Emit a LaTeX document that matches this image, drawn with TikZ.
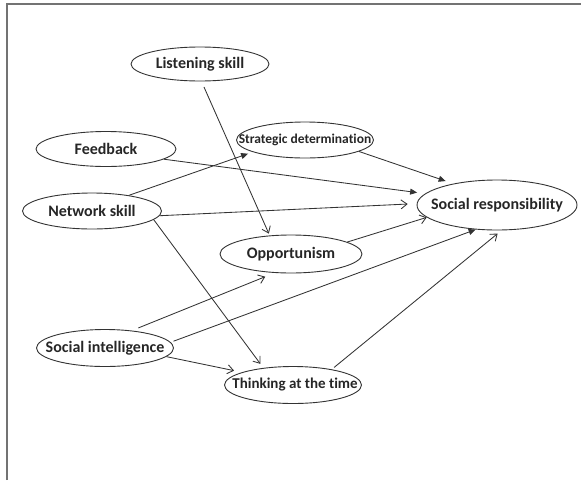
\documentclass[tikz,border=0pt]{standalone}
\usepackage{fontspec}
\setmainfont{Carlito}[Ligatures=NoCommon]
\usetikzlibrary{shapes.geometric,arrows.meta}
\tikzset{
  oval/.style={ellipse, draw=black!80, line width=0.9pt, inner sep=0pt, font=\bfseries\fontsize{16}{16}\selectfont, text=black!85},
  conn/.style={draw=black!80, line width=0.85pt},
  openarr/.style={conn, -{Straight Barb[length=6pt,width=9pt,line width=0.85pt]}},
  fillarr/.style={conn, -{Triangle[length=7pt,width=6pt]}},
  framel/.style={draw=black!55, line width=1.6pt}
}
\newcommand{\lbl}[1]{\makebox[0pt]{#1}}
\begin{document}
\begin{tikzpicture}[x=1pt,y=-1pt]
\useasboundingbox (0,0) rectangle (581,480);
\coordinate (fa) at (7,480);
\coordinate (fb) at (7,4);
\coordinate (fc) at (581,4);
\draw[framel] (fa) -- (fb) -- (fc);

\node[oval, minimum width=138pt, minimum height=34pt] (ls) at (200,64) {\lbl{Listening skill}};
\node[oval, minimum width=140pt, minimum height=35pt] (fbk) at (106,149) {\lbl{Feedback}};
\node[oval, minimum width=137pt, minimum height=36pt, font=\bfseries\fontsize{13.5}{13.5}\selectfont] (sd) at (305,140) {\lbl{Strategic determination}};
\node[oval, minimum width=139pt, minimum height=36pt] (ns) at (92,211) {\lbl{Network skill}};
\node[oval, minimum width=160pt, minimum height=50pt] (sr) at (497,205) {\lbl{Social responsibility}};
\node[oval, minimum width=142pt, minimum height=38pt] (op) at (291,254) {\lbl{Opportunism}};
\node[oval, minimum width=137pt, minimum height=37pt] (si) at (105,348) {\lbl{Social intelligence}};
\node[oval, minimum width=137pt, minimum height=37pt, font=\bfseries\fontsize{15}{15}\selectfont] (tt) at (293,385) {\hspace*{4pt}\lbl{Thinking at the time}};

\draw[openarr, shorten <=6pt, shorten >=2pt] (ls.-85) -- (op.139);
\draw[fillarr, shorten >=5pt] (ns.23) -- (sd.-167);
\draw[fillarr, shorten >=8pt] (fbk.-10) -- (sr.171);
\draw[fillarr, shorten >=8pt] (sd.-12) -- (sr.154);
\draw[openarr, shorten >=9pt] (ns.-4) -- (sr.179);
\draw[openarr, shorten >=5pt] (ns.-8) -- (tt.150);
\draw[openarr] (op.12) -- (sr.-170);
\draw[openarr, shorten <=7pt, shorten >=10pt] (si.33) -- (op.-131);
\draw[fillarr, shorten <=3pt] (si.5) -- (sr.-131);
\draw[openarr, shorten >=8pt] (si.-8) -- (tt.166);
\draw[openarr, shorten <=3pt, shorten >=5pt] (tt.22) -- (sr.-80);
\end{tikzpicture}
\end{document}
